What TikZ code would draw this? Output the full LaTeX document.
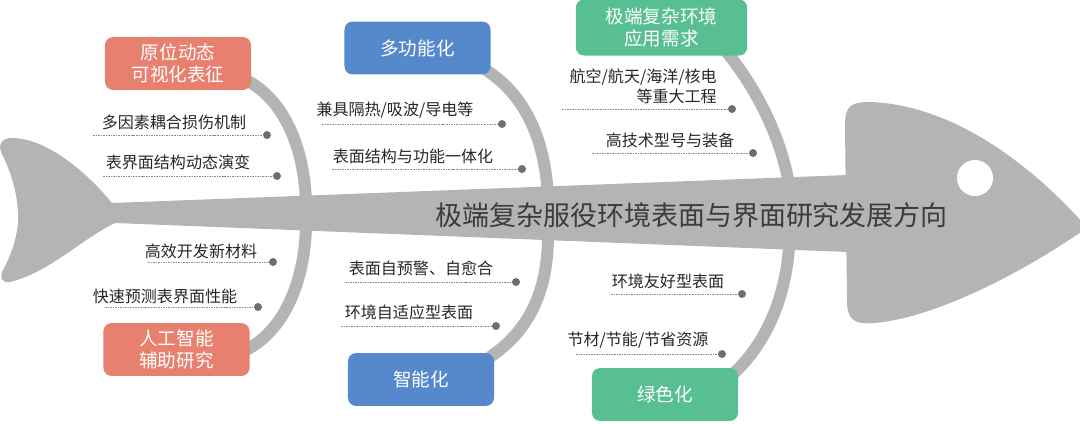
\documentclass[tikz,border=0pt]{standalone}
\usepackage{fontspec}
\setmainfont{Noto Sans CJK SC}
\usepackage{tikz}
\definecolor{fishgray}{HTML}{B3B4B6}
\definecolor{boxred}{HTML}{E8806F}
\definecolor{boxblue}{HTML}{5689CC}
\definecolor{boxgreen}{HTML}{58BF93}
\definecolor{dashgray}{HTML}{8C8C8C}
\definecolor{dotgray}{HTML}{6E6E70}
\definecolor{labeltext}{HTML}{262626}
\tikzset{
 box/.style
  = {rectangle, rounded corners=0.2cm, minimum width=3.65cm, minimum height=1.32cm,
     inner sep=0pt, text=white, align=center, font=\fontsize{13.2}{15.6}\selectfont},
 redbox/.style
  = {box, fill=boxred},
 bluebox/.style
  = {box, fill=boxblue},
 greenbox/.style
  = {box, fill=boxgreen},
 lbl/.style
  = {inner sep=0pt, text=labeltext, font=\fontsize{11.4}{14}\selectfont},
 dot/.style
  = {circle, fill=dotgray, inner sep=0pt, minimum size=0.2cm},
 dashline/.style
  = {draw=dashgray, line width=0.7pt, dash pattern=on 1.1pt off 0.7pt},
 bone/.style
  = {draw=fishgray, line width=0.3cm},
}

\begin{document}
\begin{tikzpicture}[x=0.025cm, y=-0.025cm]
\useasboundingbox (0,0) rectangle (1080,423);

% Tail and spine
\fill[fishgray] (112,203) -- (848,175) -- (848,252) -- (115,223)
  .. controls (80,240) and (50,272) .. (10,282)
  .. controls (2,283) and (0,278) .. (2,272)
  .. controls (14,250) and (19,230) .. (18,213)
  .. controls (17,190) and (10,170) .. (1,152)
  .. controls (-2,143) and (3,138) .. (12,138)
  .. controls (45,138) and (85,170) .. cycle;

% Head
\fill[fishgray] (845,125) .. controls (845,105) and (852,102) .. (870,102)
  .. controls (960,105) and (1040,175) .. (1082,222)
  .. controls (1085,227) and (1083,232) .. (1078,234)
  .. controls (1010,280) and (930,318) .. (875,323)
  .. controls (852,325) and (847,318) .. (847,300) -- cycle;

% Eye
\node[circle, fill=white, minimum size=0.9cm, inner sep=0pt] (eye) at (975,178) {};

% Bone ends
\coordinate (s1) at (246,80);   \coordinate (e1) at (306,205);
\coordinate (s2) at (486,70);   \coordinate (e2) at (548,200);
\coordinate (s3) at (725,50);   \coordinate (e3) at (789,185);
\coordinate (s4) at (246,350);  \coordinate (e4) at (306,225);
\coordinate (s5) at (490,357);  \coordinate (e5) at (548,235);
\coordinate (s6) at (732,375);  \coordinate (e6) at (789,248);

% Bones
\draw[bone] (s1) .. controls (285,100) and (305,150) .. (e1);
\draw[bone] (s2) .. controls (525,95) and (546,140) .. (e2);
\draw[bone] (s3) .. controls (750,80) and (780,130) .. (e3);
\draw[bone] (e4) .. controls (305,280) and (285,330) .. (s4);
\draw[bone] (e5) .. controls (548,290) and (530,330) .. (s5);
\draw[bone] (e6) .. controls (785,300) and (765,345) .. (s6);

% Category boxes
\node[redbox] (insitu) at (178,63.5) {原位动态\\可视化表征};
\node[bluebox] (multi) at (417.5,48) {多功能化};
\node[greenbox, minimum width=4.28cm, minimum height=1.4cm] (demand) at (661.5,27.5) {极端复杂环境\\应用需求};
\node[redbox] (ai) at (176.5,349.5) {人工智能\\辅助研究};
\node[bluebox] (smart) at (421,379.5) {智能化};
\node[greenbox] (green) at (665,394.5) {绿色化};

% Upper left labels
\node[lbl] (t1) at (174,122) {多因素耦合损伤机制};
\coordinate (a1) at (93,135);  \node[dot] (d1) at (267,135) {};
\draw[dashline] (a1) -- (d1);
\node[lbl] (t2) at (178,162) {表界面结构动态演变};
\coordinate (a2) at (103,176); \node[dot] (d2) at (277,176) {};
\draw[dashline] (a2) -- (d2);

% Upper middle labels
\node[lbl] (t3) at (395,110) {兼具隔热/吸波/导电等};
\coordinate (a3) at (322,124); \node[dot] (d3) at (502,124) {};
\draw[dashline] (a3) -- (d3);
\node[lbl] (t4) at (413,156) {表面结构与功能一体化};
\coordinate (a4) at (332,169); \node[dot] (d4) at (522,169) {};
\draw[dashline] (a4) -- (d4);

% Upper right labels
\node[lbl, align=right, anchor=east] (t5) at (717,86) {航空/航天/海洋/核电\\等重大工程};
\coordinate (a5) at (562,109); \node[dot] (d5) at (732,109) {};
\draw[dashline] (a5) -- (d5);
\node[lbl] (t6) at (670,140) {高技术型号与装备};
\coordinate (a6) at (592,153); \node[dot] (d6) at (753,153) {};
\draw[dashline] (a6) -- (d6);

% Lower left labels
\node[lbl] (t7) at (201,251) {高效开发新材料};
\coordinate (a7) at (148,262); \node[dot] (d7) at (273,262) {};
\draw[dashline] (a7) -- (d7);
\node[lbl] (t8) at (165,296) {快速预测表界面性能};
\coordinate (a8) at (105,307); \node[dot] (d8) at (258,307) {};
\draw[dashline] (a8) -- (d8);

% Lower middle labels
\node[lbl] (t9) at (421,268) {表面自预警、自愈合};
\coordinate (a9) at (345,282); \node[dot] (d9) at (516,282) {};
\draw[dashline] (a9) -- (d9);
\node[lbl] (t10) at (409,312) {环境自适应型表面};
\coordinate (a10) at (341,326); \node[dot] (d10) at (496,326) {};
\draw[dashline] (a10) -- (d10);

% Lower right labels
\node[lbl] (t11) at (668,281) {环境友好型表面};
\coordinate (a11) at (611,294); \node[dot] (d11) at (742,294) {};
\draw[dashline] (a11) -- (d11);
\node[lbl] (t12) at (638,340) {节材/节能/节省资源};
\coordinate (a12) at (576,354); \node[dot] (d12) at (722,354) {};
\draw[dashline] (a12) -- (d12);

% Main title on the spine
\node[inner sep=0pt, text=labeltext!90!white, font=\fontsize{19.2}{22}\selectfont] (title) at (691.5,215) {极端复杂服役环境表面与界面研究发展方向};

\end{tikzpicture}
\end{document}
